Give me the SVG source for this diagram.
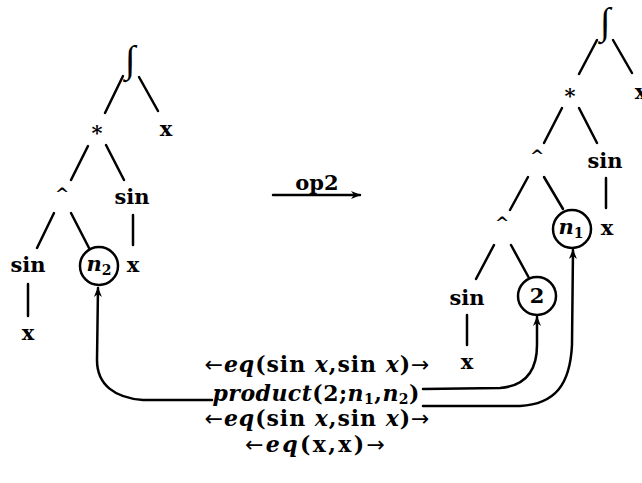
<svg xmlns="http://www.w3.org/2000/svg" width="642" height="483" viewBox="0 0 642 483">
<style>
text{font-family:"DejaVu Serif","Liberation Serif",serif;font-weight:bold;font-size:21px;fill:#000;text-anchor:middle}
.lab{font-size:22px}
.it{font-style:italic}
.sub{font-size:14px}
.int{font-family:"Liberation Serif",serif;font-size:38px;font-weight:normal;font-style:italic}
.hat{font-size:17px}
.ar{font-family:"DejaVu Sans",sans-serif;font-weight:normal;font-size:22px}
line,path,circle{stroke:#000;stroke-width:2.5;fill:none;stroke-linecap:round}
</style>
<defs>
<marker id="ah" viewBox="0 0 10 10" refX="9" refY="5" markerWidth="11" markerHeight="10" markerUnits="userSpaceOnUse" orient="auto">
<path d="M0,1 L10,5 L0,9 L3,5 Z" style="fill:#000;stroke:none"/>
</marker>
</defs>
<rect width="642" height="483" fill="#fff"/>

<g id="L-int"><text class="int" x="130" y="72">∫</text></g>
<g id="L-mul"><text x="97" y="140">*</text></g>
<g id="L-x1"><text x="166" y="136">x</text></g>
<g id="L-pow"><text class="hat" x="62" y="200">^</text></g>
<g id="L-sin1"><text x="132" y="204">sin</text></g>
<g id="L-sin2"><text x="28" y="272">sin</text></g>
<g id="L-n2"><circle cx="99" cy="266" r="19"/><text x="99" y="271"><tspan class="it">n</tspan><tspan class="sub" dy="4">2</tspan></text></g>
<g id="L-x2"><text x="133" y="272">x</text></g>
<g id="L-x3"><text x="28" y="340">x</text></g>

<g id="R-int"><text class="int" x="605" y="34">∫</text></g>
<g id="R-mul"><text x="570" y="103">*</text></g>
<g id="R-x1"><text x="641" y="99">x</text></g>
<g id="R-pow1"><text class="hat" x="537" y="162">^</text></g>
<g id="R-sin1"><text x="605" y="168">sin</text></g>
<g id="R-pow2"><text class="hat" x="502" y="229">^</text></g>
<g id="R-n1"><circle cx="572" cy="229" r="19"/><text x="571" y="234"><tspan class="it">n</tspan><tspan class="sub" dy="4">1</tspan></text></g>
<g id="R-x2"><text x="607" y="235">x</text></g>
<g id="R-sin2"><text x="467" y="305">sin</text></g>
<g id="R-two"><circle cx="537" cy="296" r="19"/><text x="537" y="303">2</text></g>
<g id="R-x3"><text x="467" y="369">x</text></g>

<g id="op2"><text x="317" y="190">op2</text></g>

<g id="labels">
<text class="lab" x="317" y="372" textLength="225"><tspan class="ar">←</tspan><tspan class="it">eq</tspan>(sin <tspan class="it">x</tspan>,sin <tspan class="it">x</tspan>)<tspan class="ar">→</tspan></text>
<text class="lab" x="316" y="401" textLength="207"><tspan class="it">product</tspan>(2;<tspan class="it">n</tspan><tspan class="sub" dy="3">1</tspan><tspan dy="-3">,</tspan><tspan class="it">n</tspan><tspan class="sub" dy="3">2</tspan><tspan dy="-3">)</tspan></text>
<text class="lab" x="317" y="426" textLength="225"><tspan class="ar">←</tspan><tspan class="it">eq</tspan>(sin <tspan class="it">x</tspan>,sin <tspan class="it">x</tspan>)<tspan class="ar">→</tspan></text>
<text class="lab" x="315" y="452" textLength="140"><tspan class="ar">←</tspan><tspan class="it">eq</tspan>(x,x)<tspan class="ar">→</tspan></text>
</g>

<g id="connectors">
<line x1="123" y1="76" x2="105" y2="113"/>
<line x1="139" y1="77" x2="158" y2="111"/>
<line x1="88" y1="146" x2="71" y2="180"/>
<line x1="106" y1="145" x2="124" y2="180"/>
<line x1="54" y1="213" x2="37" y2="248"/>
<line x1="71" y1="213" x2="89" y2="248"/>
<line x1="133" y1="215" x2="133" y2="245"/>
<line x1="28" y1="284" x2="28" y2="316"/>

<line x1="597" y1="40" x2="579" y2="74"/>
<line x1="613" y1="40" x2="632" y2="73"/>
<line x1="562" y1="108" x2="544" y2="143"/>
<line x1="579" y1="108" x2="597" y2="143"/>
<line x1="606" y1="178" x2="606" y2="208"/>
<line x1="528" y1="177" x2="510" y2="210"/>
<line x1="544" y1="177" x2="563" y2="209"/>
<line x1="494" y1="245" x2="476" y2="279"/>
<line x1="511" y1="245" x2="529" y2="278"/>
<line x1="467" y1="315" x2="467" y2="345"/>

<line x1="273" y1="195" x2="360" y2="195" marker-end="url(#ah)"/>

<path d="M212,400 L143,400 C115,398 97,385 97,360 L98,288" marker-end="url(#ah)"/>
<path d="M423,389 L500,388 C525,386 537,372 537,345 L537,317" marker-end="url(#ah)"/>
<path d="M423,406 L520,406 C555,404 570,385 572,345 L573,250" marker-end="url(#ah)"/>
</g>
</svg>
